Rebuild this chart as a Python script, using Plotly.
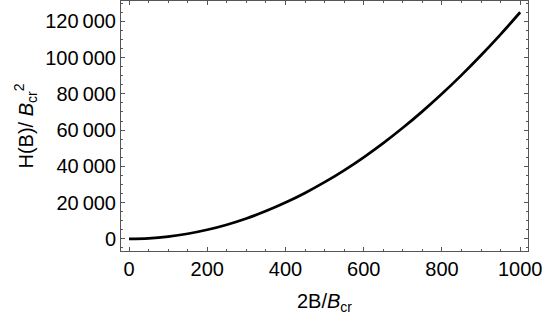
import plotly.graph_objects as go

# values
b_ratio = [0, 50, 100, 150, 200, 250, 300, 350, 400, 450, 500,
           550, 600, 650, 700, 750, 800, 850, 900, 950, 1000]
h_over_bcr2 = [0, 310, 1250, 2810, 5000, 7810, 11250, 15310, 20000, 25310, 31250,
               37810, 45000, 52810, 61250, 70310, 80000, 90310, 101250, 112810, 125000]

x_ticks = [0, 200, 400, 600, 800, 1000]
y_ticks = [0, 20000, 40000, 60000, 80000, 100000, 120000]
y_ticktext = ["0", "20\u2009000", "40\u2009000", "60\u2009000",
              "80\u2009000", "100\u2009000", "120\u2009000"]

font = "Liberation Sans, Arial, sans-serif"
frame = "#555555"

fig = go.Figure()
fig.add_trace(go.Scatter(
    x=b_ratio, y=h_over_bcr2, mode="lines",
    line=dict(color="black", width=2.7, shape="spline"),
    showlegend=False,
))

axis_common = dict(
    showline=True, linecolor=frame, linewidth=1, mirror="ticks",
    ticks="inside", ticklen=4, tickcolor=frame, tickwidth=1,
    showgrid=False, zeroline=False,
    tickfont=dict(family=font, size=20, color="black"),
)

fig.update_xaxes(
    range=[-20.5, 1020], tickvals=x_ticks,
    minor=dict(ticks="inside", ticklen=2, dtick=50, tick0=0, tickcolor=frame),
    title=dict(text="2B/<i>B</i><sub>cr</sub>",
               font=dict(family=font, size=20, color="black"), standoff=14),
    **axis_common,
)
fig.update_yaxes(
    range=[-6700, 131200], tickvals=y_ticks, ticktext=y_ticktext,
    minor=dict(ticks="inside", ticklen=2, dtick=5000, tick0=0, tickcolor=frame),
    title=dict(text="H(B)/ <i>B</i><sub>cr</sub><sup>2</sup>",
               font=dict(family=font, size=20, color="black"), standoff=6),
    **axis_common,
)

fig.update_layout(
    width=545, height=327,
    margin=dict(l=121, r=17, t=1, b=76, autoexpand=False),
    paper_bgcolor="white", plot_bgcolor="white",
    font=dict(family=font, color="black"),
)

# drop the browser's default body margin so the figure sits at the page corner
fig.write_html("out.html", config={"displayModeBar": False},
               post_script="document.body.style.margin='0';")
